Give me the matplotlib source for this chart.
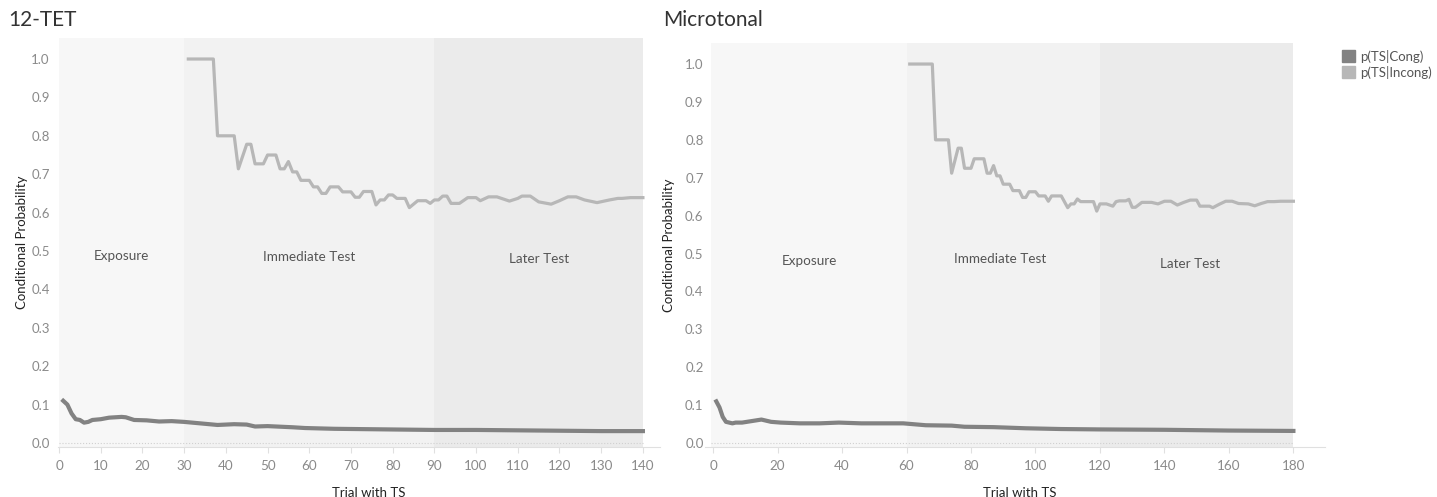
import matplotlib.pyplot as plt
from matplotlib.patches import Patch

plt.rcParams['font.family'] = ['Lato', 'DejaVu Sans']

# 12-TET panel
tet_incong_x = [31, 37, 38, 42, 43, 45, 46, 47, 49, 50, 52, 53, 54, 55, 56, 57, 58, 60, 61, 62,
                63, 64, 65, 67, 68, 70, 71, 72, 73, 75, 76, 77, 78, 79, 80, 81, 83, 84, 86, 88,
                89, 90, 91, 92, 93, 94, 96, 98, 100, 101, 103, 105, 108, 110, 111, 113, 115, 118,
                120, 122, 124, 126, 129, 132, 134, 135, 137, 140]
tet_incong_y = [1.0, 1.0, 0.8, 0.8, 0.714, 0.778, 0.778, 0.727, 0.727, 0.75, 0.75, 0.714, 0.714,
                0.733, 0.706, 0.706, 0.684, 0.684, 0.667, 0.667, 0.65, 0.65, 0.667, 0.667, 0.654,
                0.654, 0.64, 0.64, 0.655, 0.655, 0.62, 0.633, 0.633, 0.646, 0.646, 0.637, 0.637,
                0.613, 0.631, 0.631, 0.624, 0.633, 0.633, 0.643, 0.643, 0.624, 0.624, 0.639, 0.639,
                0.631, 0.641, 0.641, 0.63, 0.637, 0.643, 0.643, 0.628, 0.622, 0.631, 0.641, 0.641,
                0.633, 0.626, 0.633, 0.637, 0.637, 0.639, 0.639]
tet_cong_x = [1, 2, 3, 4, 5, 6, 7, 8, 10, 12, 15, 16, 18, 21, 24, 27, 30, 34, 38, 42, 45, 47,
              50, 56, 59, 66, 74, 82, 90, 100, 110, 120, 130, 140]
tet_cong_y = [0.11, 0.10, 0.077, 0.062, 0.06, 0.053, 0.055, 0.06, 0.062, 0.066, 0.068, 0.067,
              0.06, 0.059, 0.056, 0.057, 0.055, 0.051, 0.047, 0.049, 0.048, 0.043, 0.044, 0.041,
              0.039, 0.037, 0.036, 0.035, 0.034, 0.034, 0.033, 0.032, 0.031, 0.031]

# Microtonal panel
mic_incong_x = [61, 68, 69, 73, 74, 76, 77, 78, 80, 81, 84, 85, 86, 87, 88, 89, 90, 92, 93, 95,
                96, 97, 98, 100, 101, 103, 104, 105, 108, 110, 111, 112, 113, 114, 118, 119, 120,
                122, 124, 125, 126, 128, 129, 130, 131, 133, 136, 138, 140, 142, 144, 146, 148,
                150, 151, 154, 155, 157, 159, 161, 163, 166, 168, 170, 172, 174, 176, 180]
mic_incong_y = [1.0, 1.0, 0.8, 0.8, 0.712, 0.778, 0.778, 0.725, 0.725, 0.75, 0.75, 0.712, 0.712,
                0.732, 0.705, 0.705, 0.683, 0.683, 0.666, 0.666, 0.648, 0.648, 0.663, 0.663, 0.652,
                0.652, 0.638, 0.652, 0.652, 0.621, 0.631, 0.631, 0.644, 0.637, 0.637, 0.612, 0.631,
                0.631, 0.625, 0.637, 0.639, 0.639, 0.643, 0.622, 0.622, 0.635, 0.635, 0.631, 0.638,
                0.638, 0.628, 0.635, 0.641, 0.641, 0.625, 0.625, 0.621, 0.63, 0.638, 0.638, 0.632,
                0.631, 0.626, 0.632, 0.637, 0.637, 0.638, 0.638]
mic_cong_x = [1, 2, 3, 4, 6, 7, 9, 12, 15, 18, 21, 27, 33, 39, 46, 52, 59, 66, 74, 78, 87, 97,
              108, 120, 140, 160, 180]
mic_cong_y = [0.11, 0.094, 0.069, 0.056, 0.052, 0.054, 0.054, 0.058, 0.062, 0.056, 0.054, 0.052,
              0.052, 0.054, 0.052, 0.052, 0.052, 0.047, 0.046, 0.043, 0.042, 0.039, 0.037, 0.036,
              0.035, 0.033, 0.032]

phases = ['Exposure', 'Immediate Test', 'Later Test']
tet_bounds = [0, 30, 90, 140]
mic_bounds = [-0.6, 60, 120, 180]
tet_label_x = [15, 60, 115]
mic_label_x = [30, 89, 148]
tet_label_y = [0.487, 0.484, 0.479]
mic_label_y = [0.48, 0.485, 0.472]

band_colors = ['#f7f7f7', '#f2f2f2', '#ebebeb']
cong_color = '#828282'
incong_color = '#b7b7b7'

fig = plt.figure(figsize=(14.37, 4.97), dpi=100)
ax1 = fig.add_axes([58/1437, 0.1006, 602/1437, 409/497])
ax2 = fig.add_axes([705/1437, 0.1006, 620/1437, 403.7/497])


def draw_panel(ax, bounds, lx, ly, cx, cy, ix, iy, xlim, xticks, xlab_x, ylab_x, ypad):
    for i in range(3):
        ax.axvspan(bounds[i], bounds[i + 1], color=band_colors[i], lw=0, zorder=0)
        ax.text(lx[i], ly[i], phases[i], ha='center', va='center', fontsize=9.7, color='#555555')
    ax.plot([bounds[0], bounds[-1]], [0, 0], ls=':', color='#d0d0d0', lw=0.8, zorder=1)
    ax.plot(cx, cy, color=cong_color, lw=3, solid_joinstyle='round', zorder=3)
    ax.plot(ix, iy, color=incong_color, lw=2.3, solid_joinstyle='round', zorder=2)
    ax.set_xlim(xlim)
    ax.set_ylim(-0.0104, 1.0547)
    ax.set_xticks(xticks)
    ax.set_yticks([i / 10 for i in range(11)])
    ax.set_yticklabels(['%.1f' % (i / 10) for i in range(11)])
    for s in ['top', 'right', 'left']:
        ax.spines[s].set_visible(False)
    ax.spines['bottom'].set_color('#e0e0e0')
    ax.tick_params(axis='x', colors='#e0e0e0', length=4, labelcolor='#8a8a8a', labelsize=9.7, pad=5)
    ax.tick_params(axis='y', length=0, labelcolor='#8a8a8a', labelsize=9.5, pad=ypad)
    ax.set_xlabel('Trial with TS', fontsize=9.5, color='#222222')
    ax.xaxis.set_label_coords(xlab_x, -0.098)
    ax.set_ylabel('Conditional Probability', fontsize=9.5, color='#222222')
    ax.yaxis.set_label_coords(ylab_x, 0.5)
    ax.set_facecolor('white')


draw_panel(ax1, tet_bounds, tet_label_x, tet_label_y, tet_cong_x, tet_cong_y,
           tet_incong_x, tet_incong_y, (-0.25, 144.1), list(range(0, 141, 10)), 0.517, -0.05, 6)
draw_panel(ax2, mic_bounds, mic_label_x, mic_label_y, mic_cong_x, mic_cong_y,
           mic_incong_x, mic_incong_y, (-2.5, 189.8), list(range(0, 181, 20)), 0.508, -0.048, 1)

fig.text(8/1437, 1 - 20/497, '12-TET', fontsize=15, color='#333333', va='center', ha='left')
fig.text(663/1437, 1 - 20/497, 'Microtonal', fontsize=15, color='#333333', va='center', ha='left')

handles = [Patch(color=cong_color), Patch(color=incong_color)]
fig.legend(handles, ['p(TS|Cong)', 'p(TS|Incong)'], loc='upper left',
           bbox_to_anchor=(1335/1437, 1 - 43/497), frameon=False, fontsize=9.5,
           labelcolor='#555555', handlelength=1.0, handleheight=1.0, handletextpad=0.4,
           labelspacing=0.25, borderpad=0)

fig.savefig('out.png', dpi=100)
